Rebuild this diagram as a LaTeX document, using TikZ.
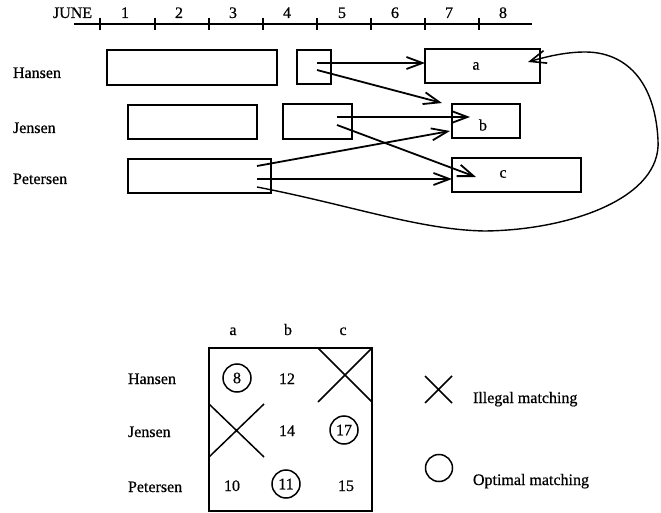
\documentclass[tikz,border=0pt]{standalone}
\usepackage{fontspec}
\setmainfont{Liberation Serif}
\newfontfamily\printface{Liberation Serif}[FakeBold=0.6]
\usetikzlibrary{arrows.meta}
\begin{document}
\begin{tikzpicture}[x=1pt,y=-1pt,
  every node/.style={font=\printface\fontsize{16}{19}\selectfont},
  txt/.style={inner sep=0pt, outer sep=0pt},
  slot/.style={draw, line width=1.8pt, inner sep=0pt, outer sep=0pt},
  axisline/.style={line width=1.8pt},
  tick/.style={line width=1.5pt},
  link/.style={line width=1.8pt, -{Straight Barb[length=16pt,width=12pt,line width=1.8pt]}},
  swap/.style={line width=1.4pt, -{Straight Barb[length=16pt,width=13pt,line width=1.6pt]}},
  cross/.style={line width=1.5pt},
  pick/.style={draw, circle, line width=1.5pt, minimum size=28pt, inner sep=0pt}]
\useasboundingbox (0,0) rectangle (661,513);

% ---- calendar axis ----
\coordinate (t0) at (74,24);
\coordinate (t1) at (532,24);
\draw[axisline] (t0) -- (t1);
\foreach \x in {100,155,209,263,317,371,425,479}
  \draw[tick] (\x,18) -- (\x,30);
\node[txt, anchor=base west] (june) at (53,18) {JUNE};
\foreach \x/\n in {125/1,179/2,233/3,287/4,342/5,395/6,449/7,503/8}
  \node[txt, anchor=base] (day\n) at (\x,18) {\n};

% ---- people ----
\node[txt, anchor=base west] (hansen)   at (13,78)  {Hansen};
\node[txt, anchor=base west] (jensen)   at (13,133) {Jensen};
\node[txt, anchor=base west] (petersen) at (13,184) {Petersen};

% ---- busy periods ----
\node[slot, minimum width=170pt, minimum height=35pt] (h1) at (192,67.5) {};
\node[slot, minimum width=34pt,  minimum height=34pt] (h2) at (314,67) {};
\node[slot, minimum width=129pt, minimum height=34pt] (j1) at (192.5,122) {};
\node[slot, minimum width=69pt,  minimum height=35pt] (j2) at (317.5,121.5) {};
\node[slot, minimum width=143pt, minimum height=34pt] (p1) at (199.5,176) {};

% ---- jobs ----
\node[slot, minimum width=115pt, minimum height=34pt] (ja) at (482.5,66) {};
\node[slot, minimum width=68pt,  minimum height=34pt] (jb) at (486,121) {};
\node[slot, minimum width=129pt, minimum height=34pt] (jc) at (516.5,175) {};
\node[txt] (la) at (476,66) {a};
\node[txt] (lb) at (483,125) {b};
\node[txt] (lc) at (503,174) {c};

% ---- possible moves ----
\coordinate (hs1) at (317,63);
\coordinate (hs2) at (317,70);
\coordinate (js1) at (337,117);
\coordinate (js2) at (337,125);
\coordinate (ps1) at (257,166);
\coordinate (ps2) at (257,179);
\coordinate (ps3) at (257,187);
\coordinate (ea)  at (ja.west |- hs1);
\coordinate (eb1) at (442,103);
\coordinate (eb2) at (470,117);
\coordinate (eb3) at (450,131);
\coordinate (ec1) at (476,177);
\coordinate (ec2) at (jc.west |- ps2);
\coordinate (ea2) at (528,62);

\draw[link] (hs1) -- (ea);
\draw[link] (hs2) -- (eb1);
\draw[link] (js1) -- (eb2);
\draw[link] (js2) -- (ec1);
\draw[link] (ps1) -- (eb3);
\draw[link] (ps2) -- (ec2);
\draw[swap] (ps3) .. controls (350,205) and (420,230) .. (485,231)
  .. controls (570,230) and (662,198) .. (658,140)
  .. controls (655,80) and (625,52) .. (585,52)
  .. controls (565,52) and (545,57) .. (ea2);

% ---- cost matrix ----
\node[slot, minimum width=163pt, minimum height=163pt] (mat) at (290.5,429.5) {};
\node[txt, anchor=base] (ca) at (233,335) {a};
\node[txt, anchor=base] (cb) at (288,335) {b};
\node[txt, anchor=base] (cc) at (343,335) {c};
\node[txt, anchor=base west] (rh) at (128,384) {Hansen};
\node[txt, anchor=base west] (rj) at (128,437) {Jensen};
\node[txt, anchor=base west] (rp) at (128,492) {Petersen};

\node[pick] (v11) at (237,378) {8};
\node[txt, anchor=base] (v12) at (287,384) {12};
\draw[cross] (318,348) -- (372,402) (318,402) -- (372,348);

\draw[cross] (209,404) -- (264,457) (209,457) -- (264,404);
\node[txt, anchor=base] (v22) at (287,436) {14};
\node[pick] (v23) at (344,430) {17};

\node[txt, anchor=base] (v31) at (232,491) {10};
\node[pick] (v32) at (286,484) {11};
\node[txt, anchor=base] (v33) at (346,491) {15};

% ---- legend ----
\draw[cross] (425,376) -- (452,403) (425,403) -- (452,376);
\node[txt, anchor=base west] (lgx) at (473,403) {Illegal matching};
\node[draw, circle, line width=1.5pt, minimum size=27pt, inner sep=0pt] (lgo) at (439,468) {};
\node[txt, anchor=base west] (lgc) at (473,485) {Optimal matching};
\end{tikzpicture}
\end{document}
